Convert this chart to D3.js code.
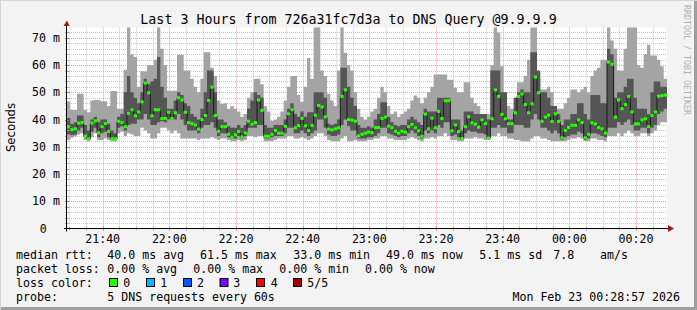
<!DOCTYPE html>
<html>
<head>
<meta charset="utf-8">
<script src="https://cdn.jsdelivr.net/npm/d3@7"></script>
<style>
  html, body { margin: 0; padding: 0; background: #f3f3f3; }
  svg { display: block; }
  text { font-family: "DejaVu Sans Mono", monospace; fill: #000; }
</style>
</head>
<body>
<svg id="chart" width="697" height="310"></svg>
<script>
// ---- data (one value per minute) ----
const startTime = Date.UTC(2026, 1, 22, 21, 29, 18);
const endTime = Date.UTC(2026, 1, 23, 0, 29, 18);
const stepSeconds = 60;

// sorted pings: min, 2nd, median, 4th, max (ms)
const pingMin = [
  32.5, 33.3, 33.8, 34.5, 35, 32.5, 32, 33.5, 35, 32.5, 32.5, 33, 32.5, 32, 32, 35, 35.5, 34, 35, 34.5, 34, 34, 37, 36, 35, 33, 33, 35, 37, 37, 36, 35, 36, 35, 33, 33,
  33, 33, 33, 32.5, 33, 33, 33, 33.5, 33, 32.5, 33, 33, 32.5, 32, 32, 32.5, 32, 32.5, 34, 34, 33.5, 34, 34, 32, 32, 32, 32.5, 33, 33, 33, 34, 34, 33, 33, 33.5, 33,
  32.5, 33, 34, 35, 35, 34, 32.5, 32, 32, 32, 33, 34, 32, 32, 32.5, 32, 32, 32, 32.5, 32.5, 33, 33, 34, 34, 33, 33, 32.5, 32.5, 32.5, 32.5, 33, 33.5, 33, 32.5, 32, 33,
  33, 33.5, 33, 34, 34, 35, 34, 32.5, 32.5, 32, 32, 33, 33, 33, 33.5, 33, 33, 32.5, 32.5, 34, 34, 35, 34, 34, 33, 33, 32.5, 32.5, 32, 32, 32, 33, 34, 34, 33, 33,
  32.5, 32, 32, 32, 32, 32, 32.5, 33, 33, 33.5, 33, 32, 32, 33, 33, 32.5, 32.5, 32, 34, 34, 34, 35, 34, 35, 36, 35, 34, 34, 35, 35, 34, 35, 36, 38, 39, 39
];
const pingLow = [
  34.6, 34.3, 34.5, 36, 37, 33.5, 32.5, 35.5, 37, 33.5, 35, 35.5, 33.5, 32.5, 32.5, 37, 37.5, 36, 38, 38.5, 38.5, 40, 40, 42, 40, 38, 38, 39, 39.5, 39, 40, 40, 40, 42, 40, 38,
  36, 36, 36, 35, 37, 38, 38, 39, 37, 34, 35, 35, 33.5, 33, 33, 34, 33, 34, 37, 37, 37, 38, 38, 33, 33, 33.5, 34, 34, 34, 35, 37, 37, 35, 35, 36, 35,
  34, 35, 36, 40, 40, 37, 34.5, 34, 34, 34.5, 38, 40, 37.5, 36, 36, 33, 33, 33, 33.5, 33.5, 34, 35, 37, 37, 35, 34.5, 34, 33.5, 34, 34, 35, 36, 35, 34, 33, 36,
  35, 36, 35, 38, 37, 39, 39, 34, 34.5, 33.5, 32.5, 35, 36, 35.5, 35.5, 35, 35, 34.5, 33, 37, 37, 38, 37, 37, 35, 35, 38, 38, 38, 37, 37, 40, 42, 40, 37, 37,
  36, 35, 36, 35, 32.5, 33.5, 34, 34.5, 34.5, 35.5, 35, 32.5, 33, 35, 35, 34.5, 34, 33.5, 37, 37, 37, 39, 38, 39, 40, 38, 36, 36, 37, 37, 35, 37, 38, 42, 43, 44
];
const pingMedian = [
  37.3, 36.3, 36.6, 38.7, 38.9, 34.0, 32.9, 38.7, 39.5, 35.1, 37.4, 38.5, 35.6, 32.9, 32.9, 39.4, 38.9, 37.4, 42.3, 43.6, 41.4, 42.8, 46.5, 53.4, 49.8, 41.4, 43.6, 43.6, 40.4, 40.4, 42.7, 40.4, 42.5, 48.0, 47.2, 42.7,
  38.9, 38.5, 38.0, 36.5, 40.0, 41.5, 47.0, 51.9, 41.5, 35.7, 37.4, 37.4, 34.6, 33.5, 34.4, 35.6, 33.6, 35.1, 39.4, 38.3, 38.9, 47.2, 43.4, 33.9, 33.9, 34.6, 36.0, 35.0, 35.0, 37.5, 42.1, 43.6, 37.0, 37.8, 40.4, 37.7,
  36.0, 37.8, 41.6, 45.2, 44.6, 41.0, 36.5, 36.2, 36.6, 37.0, 48.5, 50.9, 40.0, 39.8, 39.4, 34.0, 34.6, 35.0, 35.4, 35.2, 37.0, 37.1, 40.4, 40.9, 37.6, 37.0, 35.7, 35.0, 35.7, 35.4, 37.4, 38.2, 37.0, 35.9, 33.9, 42.0,
  36.6, 40.5, 37.0, 43.0, 40.4, 46.9, 46.9, 35.9, 38.0, 35.6, 33.0, 37.4, 41.0, 38.8, 38.3, 37.2, 39.9, 38.5, 33.2, 40.3, 50.9, 48.5, 41.9, 40.3, 38.5, 38.5, 42.5, 48.5, 49.4, 45.5, 42.5, 45.8, 55.6, 49.9, 39.4, 40.9,
  41.6, 39.3, 42.1, 39.3, 33.3, 36.0, 37.1, 37.9, 37.9, 39.9, 38.9, 33.3, 34.6, 38.8, 38.4, 37.1, 36.6, 35.1, 61.1, 60.3, 40.9, 47.2, 44.0, 45.5, 48.5, 42.8, 38.4, 38.4, 39.9, 40.3, 37.4, 41.5, 42.8, 48.6, 48.8, 49.0
];
const pingHigh = [
  40.6, 38.4, 39, 41.5, 41.5, 38, 36, 40, 41, 39, 40, 40, 38.5, 36, 35, 41, 42, 50, 56, 50, 48, 46, 50, 55, 53, 54, 55, 63, 52, 48, 44, 44, 47, 50, 49, 46,
  45, 42, 41, 40, 44, 50, 58, 58, 50, 40, 40, 39, 37.5, 37, 37, 38, 37, 38, 44, 47, 50, 49, 48, 38, 37, 37, 38, 38, 38, 40, 44, 46, 42, 41, 43, 41,
  42.7, 42.7, 50, 50, 50, 48, 38.5, 38, 38.5, 40, 59, 59, 52, 48, 45, 38, 37, 37, 37.5, 37, 40, 42, 46.4, 46.4, 41, 39, 38, 37.5, 38, 38, 40, 41, 40, 39, 38, 44,
  43, 43, 43, 48, 48, 48, 48, 40, 40, 40, 36, 43, 43, 43, 42, 42, 42, 42, 40, 58, 58, 58, 50, 50, 40, 40, 48, 50, 51, 50, 50, 64.7, 64.7, 58, 50, 50,
  48, 45, 45, 42, 38, 40, 40, 42, 42, 46, 46, 42, 40, 49, 49, 49, 46, 46, 66, 64, 48, 50, 50, 52, 55, 55, 48, 44, 44, 44, 42, 50, 54, 54, 52, 52
];
const pingMax = [
  46.6, 43.5, 43.5, 49.5, 49.5, 43.5, 42.7, 47, 47.2, 47.2, 46.7, 46.7, 45, 50.5, 50.5, 44, 44, 58.3, 76, 64, 63, 52, 57.7, 57.7, 60, 60, 62, 76, 66, 60, 50.6, 50.6, 50.6, 63.8, 63.8, 58,
  58, 55, 52, 50, 55, 64.7, 64.7, 59, 56, 47, 45.7, 46, 44, 45, 44, 43, 41, 42, 48, 50, 55, 55, 53, 45, 43, 39.5, 40, 41, 43, 47, 52, 56, 56, 49, 46.5, 52,
  62.6, 55, 76, 76, 58, 56, 49.5, 47, 45, 58, 76, 64.5, 60, 58, 50, 44, 41, 40, 41, 43, 44, 48, 52, 50, 45, 42, 43, 41, 42, 43, 44, 47, 48.8, 48, 46, 48,
  50, 52, 56.5, 56.5, 56.5, 56.5, 54.6, 54.6, 51.7, 50, 50, 53.7, 53.7, 48, 46, 45, 42, 41.3, 42, 60, 76, 72, 59.6, 47, 45, 44, 46, 53.7, 53.7, 56, 62, 76, 76, 55, 51, 51,
  52, 50, 45, 44, 44, 46, 48, 51, 51, 50, 51, 52, 50, 56, 58, 59, 62, 62, 76, 69, 66, 58, 58, 66, 76, 76, 76, 60, 59, 64, 67.5, 63.5, 63.5, 62, 59.5, 55
];

const yLabelValues = [0, 10, 20, 30, 40, 50, 60, 70];
const titleText = "Last 3 Hours from 726a31fc7d3a to DNS Query @9.9.9.9";
const rttHeading = "median rtt:";
const rttStats = ["40.0 ms avg", "61.5 ms max", "33.0 ms min", "49.0 ms now", "5.1 ms sd", "7.8", "am/s"];
const lossHeading = "packet loss:";
const lossStats = ["0.00 % avg", "0.00 % max", "0.00 % min", "0.00 % now"];
const lossColorHeading = "loss color:";
const lossLabels = ["0", "1", "2", "3", "4", "5/5"];
const lossColors = ["#26ff00", "#00b8ff", "#0059ff", "#7e00ff", "#ff0000", "#a10000"];
const probeHeading = "probe:";
const probeText = "5 DNS requests every 60s";
const stampText = "Mon Feb 23 00:28:57 2026";

// ---- layout ----
const W = 697, H = 310;
const plot = { left: 67, right: 667, top: 27.5, bottom: 228.5 };
const rttX = [107.3, 200, 293.3, 386, 479.3, 553.3, 600];
const lossX = [107.3, 193.3, 279.3, 365];
const swatchX = [109, 146, 183, 219.5, 256, 293];
const swatchLabelX = [123.3, 160.3, 197, 233.3, 270.7, 307.3];

const svg = d3.select("#chart");

// background + frame
svg.append("rect").attr("width", W).attr("height", H).attr("fill", "#f3f3f3");
svg.append("path").attr("d", `M0,${H} V0 H${W}`).attr("fill", "none")
  .attr("stroke", "#d4d4d4").attr("stroke-width", 2);
svg.append("path").attr("d", `M1,${H - 1.5} H${W - 1.5} V1`).attr("fill", "none")
  .attr("stroke", "#9e9e9e").attr("stroke-width", 3);

const x = d3.scaleUtc().domain([new Date(startTime), new Date(endTime)]).range([plot.left, plot.right]);
const y = d3.scaleLinear().domain([0, 73.8]).range([plot.bottom, plot.top]);
const crisp = v => Math.round(v) + 0.5;

// plot canvas
svg.append("rect").attr("x", plot.left).attr("y", plot.top)
  .attr("width", plot.right - plot.left).attr("height", plot.bottom - plot.top)
  .attr("fill", "#ffffff");

svg.append("defs").append("clipPath").attr("id", "plotClip")
  .append("rect").attr("x", plot.left).attr("y", plot.top)
  .attr("width", plot.right - plot.left).attr("height", plot.bottom - plot.top);

// grid
const grid = svg.append("g");
const minorY = d3.range(2, 74, 2).filter(v => v % 10 !== 0);
const majorY = yLabelValues.filter(v => v > 0);
const minorX = d3.utcMinute.every(5).range(new Date(startTime), new Date(endTime))
  .filter(d => d.getUTCMinutes() % 20 !== 0);
const majorX = d3.utcMinute.every(20).range(new Date(startTime), new Date(endTime));

grid.selectAll(".hmin").data(minorY).join("line")
  .attr("x1", plot.left).attr("x2", plot.right)
  .attr("y1", d => crisp(y(d))).attr("y2", d => crisp(y(d)))
  .attr("stroke", "#c8c8c8").attr("stroke-dasharray", "1,1");
grid.selectAll(".vmin").data(minorX).join("line")
  .attr("x1", d => crisp(x(d))).attr("x2", d => crisp(x(d)))
  .attr("y1", plot.top).attr("y2", plot.bottom)
  .attr("stroke", "#c8c8c8").attr("stroke-dasharray", "1,1");
grid.selectAll(".hmaj").data(majorY).join("line")
  .attr("x1", plot.left).attr("x2", plot.right)
  .attr("y1", d => crisp(y(d))).attr("y2", d => crisp(y(d)))
  .attr("stroke", "#f39a9a").attr("stroke-dasharray", "1,1");
grid.selectAll(".vmaj").data(majorX).join("line")
  .attr("x1", d => crisp(x(d))).attr("x2", d => crisp(x(d)))
  .attr("y1", plot.top).attr("y2", plot.bottom)
  .attr("stroke", "#f39a9a").attr("stroke-dasharray", "1,1");

// smoke
const rows = pingMedian.map((m, i) => ({
  t: new Date(startTime + i * stepSeconds * 1000),
  t1: new Date(startTime + (i + 1) * stepSeconds * 1000),
  min: pingMin[i], low: pingLow[i], med: m, high: pingHigh[i], max: pingMax[i]
}));
const stepRows = rows.concat([{ ...rows[rows.length - 1], t: new Date(endTime) }]);

const layer = svg.append("g").attr("clip-path", "url(#plotClip)");
layer.append("path").datum(stepRows)
  .attr("fill", "#a4a4a4")
  .attr("d", d3.area().curve(d3.curveStepAfter).x(d => x(d.t)).y0(d => y(d.min)).y1(d => y(d.max)));
layer.append("path").datum(stepRows)
  .attr("fill", "#555555")
  .attr("d", d3.area().curve(d3.curveStepAfter).x(d => x(d.t)).y0(d => y(d.low)).y1(d => y(d.high)));

// median line + loss coloured marks
layer.append("path").datum(stepRows)
  .attr("fill", "none").attr("stroke", "#1a1a1a").attr("stroke-width", 1)
  .attr("d", d3.line().curve(d3.curveStepAfter).x(d => x(d.t)).y(d => y(d.med)));
layer.selectAll(".med").data(rows).join("rect")
  .attr("x", d => x(d.t)).attr("width", d => x(d.t1) - x(d.t))
  .attr("y", d => y(d.med) - 1.5).attr("height", 3)
  .attr("fill", lossColors[0]);

// axes
const axes = svg.append("g");
axes.selectAll(".ytk").data(minorY.concat(majorY)).join("line")
  .attr("x1", plot.left - 2).attr("x2", plot.left + 2)
  .attr("y1", d => crisp(y(d))).attr("y2", d => crisp(y(d)))
  .attr("stroke", d => d % 10 === 0 ? "#e06060" : "#b0b0b0");
axes.selectAll(".xtk").data(minorX.concat(majorX)).join("line")
  .attr("x1", d => crisp(x(d))).attr("x2", d => crisp(x(d)))
  .attr("y1", plot.bottom - 2).attr("y2", plot.bottom + 2)
  .attr("stroke", d => d.getUTCMinutes() % 20 === 0 ? "#e06060" : "#b0b0b0");
axes.append("line").attr("x1", crisp(plot.left) - 1).attr("x2", crisp(plot.left) - 1)
  .attr("y1", plot.bottom + 3).attr("y2", 22).attr("stroke", "#000");
axes.append("line").attr("x1", plot.left - 3).attr("x2", 671)
  .attr("y1", crisp(plot.bottom) - 1).attr("y2", crisp(plot.bottom) - 1).attr("stroke", "#000");
axes.append("path").attr("d", `M${plot.left - 3.5},26 L${plot.left},20.5 L${plot.left + 2.5},26 Z`).attr("fill", "#9a1a1a");
axes.append("path").attr("d", `M668,225 L674,228.5 L668,232 Z`).attr("fill", "#9a1a1a");

// tick labels
svg.selectAll(".ylab").data(yLabelValues).join("text")
  .attr("x", d => d === 0 ? 46.7 : 60)
  .attr("y", d => y(d) + 4)
  .attr("text-anchor", "end")
  .style("font-size", "11.6px")
  .text(d => d === 0 ? "0" : d + " m");
svg.selectAll(".xlab").data(majorX).join("text")
  .attr("x", d => x(d)).attr("y", 242.5)
  .attr("text-anchor", "middle")
  .style("font-size", "11.6px")
  .text(d3.utcFormat("%H:%M"));

// titles
svg.append("text").attr("x", 348.5).attr("y", 23.5).attr("text-anchor", "middle")
  .style("font-size", "13.3px").text(titleText);
svg.append("text").attr("transform", "translate(15,127.5) rotate(-90)")
  .attr("text-anchor", "middle")
  .style("font-family", "'DejaVu Sans', sans-serif").style("font-size", "11.7px")
  .text("Seconds");
svg.append("text").attr("transform", "translate(684,5) rotate(90)")
  .style("font-size", "8.3px").style("fill", "#b0b0b0")
  .text("RRDTOOL / TOBI OETIKER");

// legend
const legend = svg.append("g").style("font-size", "11.6px");
legend.append("text").attr("x", 16).attr("y", 258.5).text(rttHeading);
legend.selectAll(".rtt").data(rttStats).join("text")
  .attr("x", (d, i) => rttX[i]).attr("y", 258.5).text(d => d);
legend.append("text").attr("x", 16).attr("y", 272.5).text(lossHeading);
legend.selectAll(".loss").data(lossStats).join("text")
  .attr("x", (d, i) => lossX[i]).attr("y", 272.5).text(d => d);
legend.append("text").attr("x", 16).attr("y", 286.5).text(lossColorHeading);
legend.selectAll(".sw").data(lossColors).join("rect")
  .attr("x", (d, i) => swatchX[i] + 0.5).attr("y", 278.5)
  .attr("width", 8).attr("height", 8)
  .attr("fill", d => d).attr("stroke", "#000");
legend.selectAll(".swl").data(lossLabels).join("text")
  .attr("x", (d, i) => swatchLabelX[i]).attr("y", 286.5).text(d => d);
legend.append("text").attr("x", 16).attr("y", 300.5).text(probeHeading);
legend.append("text").attr("x", 107.3).attr("y", 300.5).text(probeText);
legend.append("text").attr("x", 680).attr("y", 300.5).attr("text-anchor", "end").text(stampText);
</script>
</body>
</html>
